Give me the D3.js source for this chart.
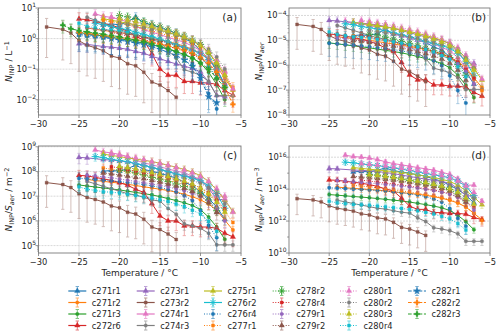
<!DOCTYPE html>
<html lang="en">
<head>
<meta charset="UTF-8">
<title>INP spectra</title>
<script src="https://d3js.org/d3.v7.min.js"></script>
<style>
  body { margin: 0; background: #fff; }
  text { font-family: "DejaVu Sans", sans-serif; fill: #262626; }
</style>
</head>
<body>
<svg id="chart" width="500" height="335"></svg>
<script>
// experiment names, in legend order
const experiments = ["c271r1","c271r2","c271r3","c272r6","c273r1","c273r2","c274r1","c274r3","c275r1","c276r2",
  "c276r4","c277r1","c278r2","c278r4","c279r1","c279r2","c280r1","c280r2","c280r3","c280r4",
  "c282r1","c282r2","c282r3"];
const lineStyles = ["solid","solid","solid","solid","solid","solid","solid","solid","solid","solid",
  "dotted","dotted","dotted","dotted","dotted","dotted","dotted","dotted","dotted","dotted",
  "dashed","dashed","dashed"];
const markerTypes = ["tri","circle","circle","tri","tri","square","tri","circle","tri","aster",
  "circle","square","aster","square","circle","tri","tri","circle","tri","square",
  "star","plus","plus"];
const palette = ["#1f77b4","#ff7f0e","#2ca02c","#d62728","#9467bd","#8c564b","#e377c2","#7f7f7f","#bcbd22","#17becf"];

// temperature (°C) of each point, per experiment
const temperatures = [
  [-22,-21,-20,-19,-18,-17,-16,-15,-14,-13,-12,-11,-10,-9,-8,-7],
  [-24,-23,-22,-21,-20,-19,-18,-17,-16,-15,-14,-13,-12,-11,-10,-9,-8,-7,-6],
  [-25,-24,-23,-22,-21,-20,-19,-18,-17,-16,-15,-14,-13,-12,-11,-10,-9,-8,-7],
  [-25,-24,-23,-22,-21,-20,-19,-18,-17,-16,-15,-14,-13,-12,-11,-10,-9,-8,-7,-6],
  [-25,-24,-22,-21,-20,-19,-18,-17,-16,-15,-14,-13,-12,-11,-10,-9,-8,-7],
  [-29,-27,-26,-25,-24,-23,-22,-21,-20,-19,-18,-17,-16,-15,-14,-13],
  [-23,-22,-21,-20,-19,-18,-17,-16,-15,-14,-13,-12,-11,-10,-9,-8,-7],
  [-24,-23,-22,-21,-20,-19,-18,-17,-16,-15,-14,-13,-12,-11,-10,-9,-8,-7,-6],
  [-22,-21,-20,-19,-18,-17,-16,-15,-14,-13,-12,-11,-10,-9,-8,-7,-6],
  [-23,-22,-21,-20,-19,-18,-17,-16,-15,-14,-13,-12,-11,-10,-9,-8,-7],
  [-25,-24,-23,-22,-21,-20,-19,-18,-17,-16,-15,-14,-13,-12,-11,-10,-9,-8],
  [-22,-21,-20,-19,-18,-17,-16,-15,-14,-13,-12,-11,-10,-9,-8,-7,-6],
  [-20,-19,-18,-17,-16,-15,-14,-13,-12,-11,-10,-9,-8],
  [-21,-20,-19,-18,-17,-16,-15,-14,-13,-12,-11,-10,-9,-8,-7],
  [-24,-23,-22,-21,-20,-19,-18,-17,-16,-15,-14,-13,-12,-11,-10,-9,-8,-7],
  [-22,-21,-20,-19,-18,-17,-16,-15,-14,-13,-12,-11,-10,-9,-8],
  [-21,-20,-19,-18,-17,-16,-15,-14,-13,-12,-11,-10,-9,-8,-7,-6],
  [-20,-19,-18,-17,-16,-15,-14,-13,-12,-11,-10,-9,-8,-7],
  [-20,-19,-18,-17,-16,-15,-14,-13,-12,-11,-10,-9,-8,-7],
  [-25,-24,-23,-22,-21,-20,-19,-18,-17,-16,-15,-14,-13,-12,-11,-10,-9,-8],
  [-25,-24,-23,-22,-21,-20,-19,-18,-17,-16,-15,-14,-13,-12,-11,-10,-9,-8],
  [-25,-24,-23,-22,-21,-20,-19,-18,-17,-16,-15,-14,-13,-12,-11,-10,-9,-8,-7,-6],
  [-27,-26,-25,-24,-23,-22,-21,-20,-19,-18,-17,-16,-15,-14,-13,-12,-11,-10,-9,-8,-7]
];

// log10 of N_INP in L^-1, per experiment
const logNInp = [
  [0.45,0.48,0.45,0.55,0.7,0.52,0.45,0.36,0.27,0.17,0.0,-0.13,-0.4,-0.65,-1.0,-1.5],
  [0.35,0.3,0.27,0.23,0.2,0.15,0.1,0.05,0.0,-0.05,-0.1,-0.17,-0.25,-0.35,-0.48,-0.65,-0.9,-1.3,-1.7],
  [0.2,0.16,0.12,0.08,0.04,0.0,-0.05,-0.1,-0.15,-0.2,-0.27,-0.35,-0.43,-0.52,-0.63,-0.8,-1.1,-1.5,-2.0],
  [0.64,0.62,0.56,0.5,0.44,0.35,0.24,0.08,-0.05,-0.5,-1.0,-1.2,-1.2,-1.4,-1.4,-1.45,-1.45,-1.5,-1.7,-1.85],
  [-0.17,-0.19,-0.26,-0.28,-0.31,-0.35,-0.42,-0.48,-0.58,-0.66,-0.75,-0.83,-0.9,-0.98,-1.09,-1.42,-1.86,-1.9],
  [0.38,0.3,0.18,-0.07,-0.22,-0.3,-0.4,-0.57,-0.64,-0.82,-0.89,-1.1,-1.42,-1.52,-1.7,-1.92],
  [0.81,0.73,0.69,0.63,0.54,0.4,0.29,0.21,0.13,0.04,-0.04,-0.12,-0.25,-0.39,-0.66,-1.06,-1.06],
  [0.7,0.6,0.5,0.4,0.3,0.2,0.15,0.05,-0.05,-0.1,-0.4,-0.63,-1.02,-1.1,-1.2,-1.4,-1.87,-1.87,-1.87],
  [0.65,0.6,0.55,0.5,0.45,0.4,0.35,0.28,0.2,0.12,0.03,-0.08,-0.22,-0.45,-0.8,-1.2,-1.68],
  [0.5,0.46,0.39,0.34,0.29,0.21,0.14,0.06,-0.02,-0.11,-0.21,-0.29,-0.38,-0.48,-0.69,-1.0,-1.59],
  [0.1,0.08,0.05,0.02,0.0,-0.03,-0.07,-0.1,-0.15,-0.2,-0.27,-0.35,-0.45,-0.6,-0.8,-1.2,-1.8,-2.3],
  [0.6,0.55,0.5,0.45,0.38,0.32,0.25,0.18,0.1,0.02,-0.07,-0.17,-0.3,-0.48,-0.75,-1.15,-1.6],
  [0.75,0.71,0.63,0.55,0.45,0.38,0.28,0.18,0.08,-0.05,-0.19,-0.47,-0.9],
  [0.2,0.15,0.08,0.02,-0.04,-0.1,-0.17,-0.25,-0.33,-0.42,-0.52,-0.65,-0.85,-1.15,-1.5],
  [0.35,0.32,0.28,0.25,0.2,0.15,0.1,0.05,0.0,-0.06,-0.12,-0.2,-0.28,-0.38,-0.5,-0.7,-1.0,-1.5],
  [0.3,0.27,0.22,0.17,0.12,0.07,0.0,-0.07,-0.15,-0.23,-0.32,-0.45,-0.62,-0.9,-1.3],
  [0.7,0.65,0.6,0.55,0.48,0.4,0.33,0.25,0.16,0.06,-0.05,-0.2,-0.4,-0.7,-1.1,-1.65],
  [0.5,0.45,0.4,0.35,0.3,0.24,0.18,0.1,0.02,-0.07,-0.18,-0.35,-0.6,-1.0],
  [0.65,0.6,0.55,0.48,0.4,0.32,0.24,0.15,0.05,-0.07,-0.22,-0.45,-0.8,-1.2],
  [0.5,0.4,0.35,0.3,0.28,0.25,0.2,0.15,0.1,0.05,-0.02,-0.1,-0.2,-0.3,-0.45,-0.6,-0.9,-1.3],
  [0.15,0.12,0.1,0.05,0.0,-0.05,-0.1,-0.15,-0.2,-0.27,-0.35,-0.45,-0.55,-0.7,-0.9,-1.3,-1.9,-2.1],
  [0.2,0.17,0.14,0.1,0.07,0.04,0.0,-0.04,-0.08,-0.13,-0.18,-0.24,-0.3,-0.38,-0.48,-0.62,-0.8,-1.1,-1.6,-2.15],
  [0.44,0.32,0.26,0.22,0.18,0.14,0.1,0.06,0.0,-0.05,-0.1,-0.17,-0.25,-0.33,-0.42,-0.52,-0.65,-0.8,-1.0,-1.3,-1.6]
];

// relative uncertainty of each experiment
const relErr = [0.4,0.4,0.4,0.6,0.45,0.9,0.4,0.45,0.4,0.35,0.7,0.45,0.35,0.45,0.45,0.5,0.4,0.45,0.4,0.45,0.7,0.45,0.45];

// aerosol number (cm^-3), surface (um^2 cm^-3), volume (um^3 cm^-3); null = not available
const nAer = [182,158,200,245,10.7,55,107,126,83,68,166,263,316,105,178,200,79,126,100,145,null,null,null];
const sAer = [27.5,46.8,56,63,1.82,68,8.7,126,8.9,7.9,24,29,49,10.2,32,23,10,20,28,132,null,null,null];
const vAer = [2.34,16.6,34.7,11.7,0.35,95,0.49,251,2.0,0.65,10.5,23,6.8,4.4,6.5,3.2,1.26,4.0,5.6,182,null,null,null];

const xTicks = [-30,-25,-20,-15,-10,-5];

const panels = [
  { tag: "(a)", left: 38.5, right: 241, top: 8, bottom: 115, yDom: [10 ** -2.5, 10],
    major: [1e-2, 1e-1, 1e0, 1e1], minor: true, factor: i => 1,
    label: [["N","i"],["INP","sub"],[" / L",""],["−1","sup"]], labelX: 12 },
  { tag: "(b)", left: 289, right: 490, top: 8, bottom: 115, yDom: [1e-8, 10 ** -3.7],
    major: [1e-8, 1e-7, 1e-6, 1e-5, 1e-4], minor: true, factor: i => nAer[i] == null ? null : 1e-3 / nAer[i],
    label: [["N","i"],["INP","sub"],["/",""],["N","i"],["aer","subi"]], labelX: 262 },
  { tag: "(c)", left: 38.5, right: 241, top: 146, bottom: 253, yDom: [10 ** 4.7, 10 ** 9.03],
    major: [1e5, 1e6, 1e7, 1e8, 1e9], minor: true, factor: i => sAer[i] == null ? null : 1e9 / sAer[i],
    label: [["N","i"],["INP","sub"],["/",""],["S","i"],["aer","subi"],[" / m",""],["−2","sup"]], labelX: 12 },
  { tag: "(d)", left: 289, right: 490, top: 146, bottom: 253, yDom: [1e10, 10 ** 16.7],
    major: [1e10, 1e12, 1e14, 1e16], minor: false, factor: i => vAer[i] == null ? null : 1e15 / vAer[i],
    label: [["N","i"],["INP","sub"],["/",""],["V","i"],["aer","subi"],[" / m",""],["−3","sup"]], labelX: 262 }
];

const svg = d3.select("#chart");
const dashFor = { solid: null, dotted: "1,1.6", dashed: "3.7,1.6" };

function markerPath(type) {
  if (type === "tri") return d3.symbol(d3.symbolTriangle, 13)();
  if (type === "circle") return d3.symbol(d3.symbolCircle, 10)();
  if (type === "square") return d3.symbol(d3.symbolSquare, 9)();
  if (type === "star") return d3.symbol(d3.symbolStar, 16)();
  if (type === "plus") return d3.symbol(d3.symbolCross, 14)();
  return null;
}

function drawMarker(g, type, color, x, y) {
  if (type === "aster") {
    const r = 3.6, q = r * 0.707;
    g.append("path")
      .attr("d", `M${x - r},${y}L${x + r},${y}M${x},${y - r}L${x},${y + r}M${x - q},${y - q}L${x + q},${y + q}M${x - q},${y + q}L${x + q},${y - q}`)
      .attr("stroke", color).attr("stroke-width", 0.9).attr("fill", "none");
  } else {
    g.append("path").attr("d", markerPath(type))
      .attr("transform", `translate(${x},${y})`)
      .attr("fill", color).attr("stroke", color).attr("stroke-width", 0.3);
  }
}

function sciLabel(sel, e) {
  sel.append("tspan").text("10");
  sel.append("tspan").attr("dy", -3.6).attr("font-size", "6px")
    .text(e < 0 ? "−" + Math.abs(e) : String(e));
}

panels.forEach((p, pi) => {
  const x = d3.scaleLinear().domain([-30, -5]).range([p.left, p.right]);
  const y = d3.scaleLog().domain(p.yDom).range([p.bottom, p.top]);
  const g = svg.append("g");

  const clipId = "clip" + pi;
  svg.append("clipPath").attr("id", clipId).append("rect")
    .attr("x", p.left).attr("y", p.top).attr("width", p.right - p.left).attr("height", p.bottom - p.top);

  // grid
  g.selectAll(".vg").data(xTicks.slice(1, -1)).enter().append("line")
    .attr("x1", d => x(d)).attr("x2", d => x(d)).attr("y1", p.top).attr("y2", p.bottom)
    .attr("stroke", "#d6d6d6").attr("stroke-width", 0.8);
  g.selectAll(".hg").data(p.major.filter(v => y(v) > p.top + 0.5 && y(v) < p.bottom - 0.5)).enter().append("line")
    .attr("x1", p.left).attr("x2", p.right).attr("y1", d => y(d)).attr("y2", d => y(d))
    .attr("stroke", "#cfcfcf").attr("stroke-width", 0.8).attr("stroke-dasharray", "2,1");

  // data
  const data = svg.append("g").attr("clip-path", `url(#${clipId})`);
  experiments.forEach((name, i) => {
    const f = p.factor(i);
    if (f == null) return;
    const color = palette[i % 10];
    const pts = temperatures[i].map((t, k) => {
      const v = Math.pow(10, logNInp[i][k]) * f;
      return { t: t, v: v, lo: v * (1 - relErr[i]), hi: v * (1 + relErr[i]) };
    });
    const eg = data.append("g").attr("opacity", 0.42);
    pts.forEach(d => {
      const yl = d.lo > 0 ? y(d.lo) : p.bottom + 5;
      eg.append("line").attr("x1", x(d.t)).attr("x2", x(d.t)).attr("y1", yl).attr("y2", y(d.hi))
        .attr("stroke", color).attr("stroke-width", 0.9);
      [yl, y(d.hi)].forEach(yy => eg.append("line")
        .attr("x1", x(d.t) - 1.6).attr("x2", x(d.t) + 1.6).attr("y1", yy).attr("y2", yy)
        .attr("stroke", color).attr("stroke-width", 0.9));
    });
    data.append("path").datum(pts)
      .attr("d", d3.line().x(d => x(d.t)).y(d => y(d.v)))
      .attr("fill", "none").attr("stroke", color).attr("stroke-width", 1)
      .attr("stroke-dasharray", dashFor[lineStyles[i]]);
    const mg = data.append("g");
    pts.forEach(d => drawMarker(mg, markerTypes[i], color, x(d.t), y(d.v)));
  });

  // frame
  svg.append("rect").attr("x", p.left).attr("y", p.top)
    .attr("width", p.right - p.left).attr("height", p.bottom - p.top)
    .attr("fill", "none").attr("stroke", "#7a7a7a").attr("stroke-width", 0.9);

  // x ticks
  xTicks.forEach(t => {
    svg.append("line").attr("x1", x(t)).attr("x2", x(t)).attr("y1", p.bottom).attr("y2", p.bottom + 3)
      .attr("stroke", "#7a7a7a").attr("stroke-width", 0.8);
    svg.append("text").attr("x", x(t)).attr("y", p.bottom + 11.5).attr("text-anchor", "middle")
      .attr("font-size", "8.3px").text(t < 0 ? "−" + Math.abs(t) : String(t));
  });

  // y ticks
  const [lo, hi] = p.yDom.map(Math.log10);
  for (let e = Math.floor(lo); e <= Math.ceil(hi); e++) {
    const isMajor = p.major.some(m => Math.abs(Math.log10(m) - e) < 1e-9);
    const yy = y(Math.pow(10, e));
    if (yy >= p.top - 0.5 && yy <= p.bottom + 0.5) {
      svg.append("line").attr("x1", p.left - (isMajor ? 3 : 1.8)).attr("x2", p.left).attr("y1", yy).attr("y2", yy)
        .attr("stroke", "#7a7a7a").attr("stroke-width", 0.8);
      if (isMajor) {
        const tx = svg.append("text").attr("x", p.left - 2.5).attr("y", yy + 3).attr("text-anchor", "end")
          .attr("font-size", "8.3px");
        sciLabel(tx, e);
      }
    }
    if (p.minor) {
      for (let k = 2; k <= 9; k++) {
        const ym = y(k * Math.pow(10, e));
        if (ym >= p.top && ym <= p.bottom) {
          svg.append("line").attr("x1", p.left - 1.5).attr("x2", p.left).attr("y1", ym).attr("y2", ym)
            .attr("stroke", "#7a7a7a").attr("stroke-width", 0.6);
        }
      }
    }
  }

  // panel tag
  svg.append("text").attr("x", p.right - 4).attr("y", p.top + 13).attr("text-anchor", "end")
    .attr("font-size", "10.5px").text(p.tag);

  // y label
  const cy = (p.top + p.bottom) / 2;
  const yl = svg.append("text").attr("transform", `translate(${p.labelX},${cy}) rotate(-90)`)
    .attr("text-anchor", "middle").attr("font-size", "9px");
  let shift = 0;
  p.label.forEach(([s, kind]) => {
    const ts = yl.append("tspan").text(s);
    let target = 0;
    if (kind === "sub" || kind === "subi") { target = 2.2; ts.attr("font-size", "6.5px"); }
    if (kind === "sup") { target = -3.5; ts.attr("font-size", "6.5px"); }
    if (kind === "i" || kind === "subi") ts.attr("font-style", "italic");
    ts.attr("dy", target - shift);
    shift = target;
  });

  // x label on the lower row
  if (p.bottom > 200) {
    svg.append("text").attr("x", (p.left + p.right) / 2).attr("y", p.bottom + 23)
      .attr("text-anchor", "middle").attr("font-size", "9px").text("Temperature / °C");
  }
});

// legend
const colX = [68.3, 136.7, 204, 272.7, 340, 408];
const rowY = [291, 302.5, 314, 325.5];
const lg = svg.append("g");
experiments.forEach((name, i) => {
  const cx = colX[Math.floor(i / 4)], cy = rowY[i % 4], color = palette[i % 10];
  lg.append("line").attr("x1", cx).attr("x2", cx + 18).attr("y1", cy).attr("y2", cy)
    .attr("stroke", color).attr("stroke-width", 1.2).attr("stroke-dasharray", dashFor[lineStyles[i]]);
  const eg = lg.append("g").attr("opacity", 0.6);
  eg.append("line").attr("x1", cx + 9).attr("x2", cx + 9).attr("y1", cy - 4.5).attr("y2", cy + 4.5)
    .attr("stroke", color).attr("stroke-width", 1);
  [cy - 4.5, cy + 4.5].forEach(yy => eg.append("line").attr("x1", cx + 7.3).attr("x2", cx + 10.7)
    .attr("y1", yy).attr("y2", yy).attr("stroke", color).attr("stroke-width", 1));
  drawMarker(lg, markerTypes[i], color, cx + 9, cy);
  lg.append("text").attr("x", cx + 23.5).attr("y", cy + 3).attr("font-size", "8.3px").text(name);
});
</script>
</body>
</html>
